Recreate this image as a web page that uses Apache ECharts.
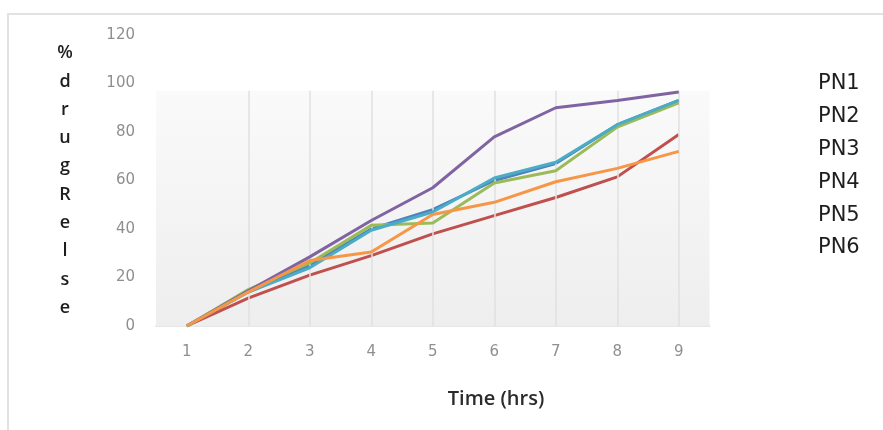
<!DOCTYPE html>
<html>
<head>
<meta charset="utf-8">
<script src="https://cdn.jsdelivr.net/npm/echarts@6/dist/echarts.min.js"></script>
<style>
  html, body { margin: 0; padding: 0; background: #ffffff; }
  #frame { position: absolute; left: 7px; top: 13px; width: 900px; height: 440px;
           border-top: 2px solid #e2e2e2; border-left: 2px solid #e2e2e2; box-sizing: border-box; }
  #chart { position: absolute; left: 0; top: 0; width: 883px; height: 430px; }
</style>
</head>
<body>
<div id="frame"></div>
<div id="chart"></div>
<script>
// Sampling times (hours)
const hours = ['1', '2', '3', '4', '5', '6', '7', '8', '9'];

// Cumulative % drug release per formulation
const pn1 = [0, 14, 25, 40, 48, 60, 67, 83, 93];
const pn2 = [0, 11.5, 21, 29, 38, 45.5, 53, 61.5, 79];
const pn3 = [0, 15, 26, 41.5, 42.5, 59, 64, 82, 92];
const pn4 = [0, 14.5, 28.5, 43.5, 57, 78, 90, 93, 96.5];
const pn5 = [0, 14, 24, 39.5, 47, 61, 67.5, 83, 93];
const pn6 = [0, 14, 27, 30.5, 46, 51, 59.5, 65, 72];

const seriesNames = ['PN1', 'PN2', 'PN3', 'PN4', 'PN5', 'PN6'];
const seriesValues = [pn1, pn2, pn3, pn4, pn5, pn6];
const seriesColors = ['#4F81BD', '#C0504D', '#9BBB59', '#8064A2', '#4BACC6', '#F79646'];

// y-axis ticks
const yMin = 0, yMax = 120, yStep = 20;
// height of the shaded back wall
const wallTop = 97;

const yTitle = ['%', 'd', 'r', 'u', 'g', 'R', 'e', 'l', 's', 'e'];

const chart = echarts.init(document.getElementById('chart'), null, { renderer: 'canvas' });

const series = seriesNames.map((name, i) => ({
  name: name,
  type: 'line',
  data: seriesValues[i],
  symbol: 'none',
  smooth: false,
  lineStyle: { width: 3, color: seriesColors[i] },
  itemStyle: { color: seriesColors[i] },
  z: 3 + i
}));

// back wall and vertical guides carried by a helper series
series.unshift({
  name: 'wall',
  type: 'line',
  data: [],
  silent: true,
  z: 1,
  markArea: {
    silent: true,
    itemStyle: {
      color: new echarts.graphic.LinearGradient(0, 0, 0, 1, [
        { offset: 0, color: 'rgba(250,250,250,1)' },
        { offset: 1, color: 'rgba(238,238,238,1)' }
      ])
    },
    data: [[{ yAxis: yMin }, { yAxis: wallTop }]]
  },
  markLine: {
    silent: true,
    symbol: 'none',
    label: { show: false },
    lineStyle: { color: '#e0e0e0', width: 1.5, type: 'solid' },
    data: hours.slice(1).map(h => [{ coord: [h, yMin] }, { coord: [h, wallTop] }])
  }
});

chart.setOption({
  animation: false,
  backgroundColor: 'transparent',
  textStyle: { fontFamily: '"Open Sans", "DejaVu Sans", sans-serif' },
  grid: { left: 156, right: 173.5, top: 35, bottom: 104, containLabel: false },
  title: {
    text: 'Time (hrs)',
    left: 491,
    top: 384,
    textAlign: 'center',
    textStyle: { fontSize: 20, fontWeight: 600, color: '#2b2b2b', fontFamily: '"Open Sans", sans-serif' }
  },
  legend: {
    data: seriesNames,
    orient: 'vertical',
    left: 813,
    top: 68,
    icon: 'none',
    itemWidth: 0,
    itemHeight: 22,
    itemGap: 11.3,
    selectedMode: false,
    textStyle: { fontSize: 21, color: '#1e1e1e', padding: [0, 0, 0, -5], fontFamily: '"DejaVu Sans", sans-serif' }
  },
  xAxis: {
    type: 'category',
    data: hours,
    boundaryGap: true,
    axisLine: { show: true, lineStyle: { color: '#e6e6e6', width: 2 } },
    axisTick: { show: false },
    axisLabel: { color: '#8f8f8f', fontSize: 15, margin: 19, fontFamily: '"DejaVu Sans", sans-serif' },
    splitLine: { show: false }
  },
  yAxis: {
    type: 'value',
    min: yMin,
    max: yMax,
    interval: yStep,
    name: yTitle.join('\n'),
    nameLocation: 'middle',
    nameRotate: 0,
    nameGap: 91,
    nameTextStyle: {
      fontSize: 18,
      fontWeight: 600,
      color: '#1e1e1e',
      lineHeight: 28.3,
      align: 'center',
      verticalAlign: 'middle',
      padding: [17, 0, 0, 0],
      fontFamily: '"Open Sans", sans-serif'
    },
    axisLine: { show: false },
    axisTick: { show: false },
    axisLabel: { color: '#8f8f8f', fontSize: 15, margin: 21, fontFamily: '"DejaVu Sans", sans-serif' },
    splitLine: { show: false }
  },
  series: series
});
</script>
</body>
</html>
